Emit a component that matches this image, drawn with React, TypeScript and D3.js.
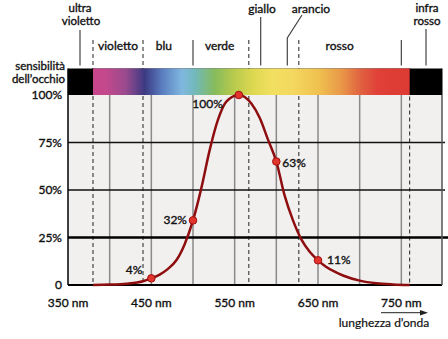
import React from "react";
import * as d3 from "d3";

// curve: wavelength (nm) vs eye sensitivity (%)
const curveNm = [380, 400, 420, 440, 450, 460, 470, 480, 490, 500, 510, 520, 530, 540, 555, 570, 580, 590, 600, 610, 620, 630, 640, 650, 660, 670, 680, 700, 720, 740, 760];
const curvePct = [0, 0.2, 0.7, 2, 3.5, 5.5, 8.5, 13, 21.5, 34, 51, 71, 87, 96.5, 100, 95.5, 88, 76.5, 65, 47, 34, 24, 17.5, 13, 9.5, 7, 5, 2.3, 0.9, 0.3, 0];

const markerNm = [450, 500, 555, 600, 650];
const markerLabels = ["4%", "32%", "100%", "63%", "11%"];

const xTickNm = [350, 450, 550, 650, 750];
const xTickLabels = ["350 nm", "450 nm", "550 nm", "650 nm", "750 nm"];
const gridNm = [400, 450, 500, 550, 600, 650, 700, 750];
const yTicks = [0, 25, 50, 75, 100];
const yTickLabels = ["0", "25%", "50%", "75%", "100%"];

const dashedNm = [380, 440, 567, 627, 760];
const dashedInBand = [true, true, true, true, false];
const bandSolidNm = [500, 750];

const spectrumNm = [380, 395, 419, 442, 463, 487, 502, 526, 547, 571, 595, 619, 650, 678, 702, 722, 760];
const spectrumColors = ["#c8458a", "#c4488c", "#9a4a8e", "#3c3a82", "#5a7ec0", "#80b8e0", "#72b8bc", "#86bb5c", "#b4c94e", "#dcd850", "#f2e060", "#f4d860", "#f0c250", "#e89848", "#e06040", "#e04038", "#dc3a32"];

const bandLabels = ["violetto", "blu", "verde", "rosso"];
const bandLabelNm = [410, 465, 532, 676];

const FONT = "Lato, 'Open Sans', sans-serif";

export default function App() {
  const W = 448, H = 339;
  const x = d3.scaleLinear().domain([350, 800]).range([68, 443]);
  const y = d3.scaleLinear().domain([0, 100]).range([285, 95]);
  const pctAt = (nm: number) => curvePct[curveNm.indexOf(nm)];
  const line = d3
    .line<number>()
    .x((_, i) => x(curveNm[i]))
    .y((d) => y(d))
    .curve(d3.curveMonotoneX);
  const barTop = 68.5;
  const labelOffsets: [number, number, string][] = [
    [-9, -4, "end"],
    [-6, 4, "end"],
    [-16, 13, "end"],
    [6, 5, "start"],
    [9, 4, "start"],
  ];
  const xL = x(350), xR = 442;
  const tp = { fontSize: 12, fill: "#111", stroke: "#111", strokeWidth: 0.35 } as const;

  return (
    <svg width={W} height={H} style={{ position: "absolute", left: 0, top: 0 }} fontFamily={FONT}>
      <defs>
        <linearGradient id="spec" gradientUnits="userSpaceOnUse" x1={x(380)} x2={x(760)} y1={0} y2={0}>
          {spectrumNm.map((nm, i) => (
            <stop key={i} offset={(nm - 380) / (760 - 380)} stopColor={spectrumColors[i]} />
          ))}
        </linearGradient>
      </defs>
      <rect width={W} height={H} fill="#ffffff" />
      {/* plot background */}
      <rect x={xL} y={y(100)} width={xR - xL} height={y(0) - y(100)} fill="#f1f0ef" />
      {/* vertical grid */}
      {gridNm.map((nm) => (
        <line key={nm} x1={x(nm)} x2={x(nm)} y1={y(100)} y2={y(0)} stroke="#8a8a8a" strokeWidth={1.5} />
      ))}
      {/* dashed */}
      {dashedNm.map((nm, i) => (
        <line key={nm} x1={x(nm)} x2={x(nm)} y1={dashedInBand[i] ? 40 : barTop} y2={y(0)} stroke="#222" strokeWidth={1} strokeDasharray="4,3" />
      ))}
      {/* horizontal grid */}
      <line x1={xL} x2={445} y1={y(75)} y2={y(75)} stroke="#111" strokeWidth={1.5} />
      <line x1={xL} x2={445} y1={y(50)} y2={y(50)} stroke="#111" strokeWidth={1.5} />
      <line x1={xL} x2={448} y1={y(25)} y2={y(25)} stroke="#000" strokeWidth={2.5} />
      <line x1={xL} x2={xR} y1={y(0)} y2={y(0)} stroke="#000" strokeWidth={2} />
      <line x1={xL} x2={xL} y1={barTop} y2={y(0)} stroke="#000" strokeWidth={1.5} />
      <line x1={xR} x2={xR} y1={barTop} y2={y(0)} stroke="#555" strokeWidth={1.5} />
      {/* spectrum bar */}
      <rect x={xL} y={barTop} width={xR - xL} height={y(100) - barTop} fill="#000" />
      <rect x={x(380)} y={barTop} width={x(760) - x(380)} height={y(100) - barTop} fill="url(#spec)" />
      {/* band separators */}
      {bandSolidNm.map((nm) => (
        <line key={nm} x1={x(nm)} x2={x(nm)} y1={40} y2={barTop - 3} stroke="#444" strokeWidth={1.2} />
      ))}
      <line x1={80} x2={80} y1={30} y2={barTop - 3} stroke="#444" strokeWidth={1.2} />
      <line x1={426} x2={426} y1={29} y2={barTop - 3} stroke="#444" strokeWidth={1.2} />
      <line x1={260.7} x2={260.7} y1={17} y2={barTop - 3} stroke="#444" strokeWidth={1.2} />
      <polyline points={`302,15 287.3,38 287.3,${barTop - 3}`} fill="none" stroke="#444" strokeWidth={1.2} />
      {/* band labels */}
      {bandLabels.map((t, i) => (
        <text key={t} x={x(bandLabelNm[i])} y={50} {...tp} textAnchor="middle">{t}</text>
      ))}
      <text x={80} y={12} {...tp} fontSize={11.5} textAnchor="middle">ultra</text>
      <text x={81} y={25} {...tp} fontSize={11.5} textAnchor="middle">violetto</text>
      <text x={262} y={13} {...tp} textAnchor="middle">giallo</text>
      <text x={311} y={13} {...tp} textAnchor="middle">arancio</text>
      <text x={427} y={12} {...tp} fontSize={11.5} textAnchor="middle">infra</text>
      <text x={427} y={25} {...tp} fontSize={11.5} textAnchor="middle">rosso</text>
      <text x={65} y={70} {...tp} fontSize={11.5} textAnchor="end">sensibilità</text>
      <text x={65} y={83} {...tp} fontSize={11.5} textAnchor="end">dell’occhio</text>
      {/* y ticks */}
      {yTicks.map((v, i) => (
        <text key={v} x={62} y={y(v) + 4} {...tp} textAnchor="end">{yTickLabels[i]}</text>
      ))}
      {/* x ticks */}
      {xTickNm.map((nm, i) => (
        <text key={nm} x={x(nm)} y={307} {...tp} textAnchor="middle">{xTickLabels[i]}</text>
      ))}
      <line x1={381} x2={422} y1={312.7} y2={312.7} stroke="#222" strokeWidth={1} />
      <path d="M428,312.7 L420,310 L420,315.4 Z" fill="#222" />
      <text x={384} y={327} {...tp} strokeWidth={0.2} textAnchor="middle">lunghezza d’onda</text>
      {/* curve */}
      <path d={line(curvePct) || ""} fill="none" stroke="#8e0e10" strokeWidth={2.5} />
      {markerNm.map((nm, i) => (
        <g key={nm}>
          <circle cx={x(nm)} cy={y(pctAt(nm))} r={3.8} fill="#e0342c" stroke="#a01010" strokeWidth={1} />
          <text
            x={x(nm) + labelOffsets[i][0]}
            y={y(pctAt(nm)) + labelOffsets[i][1]}
            {...tp}
            textAnchor={labelOffsets[i][2] as any}
          >
            {markerLabels[i]}
          </text>
        </g>
      ))}
    </svg>
  );
}
